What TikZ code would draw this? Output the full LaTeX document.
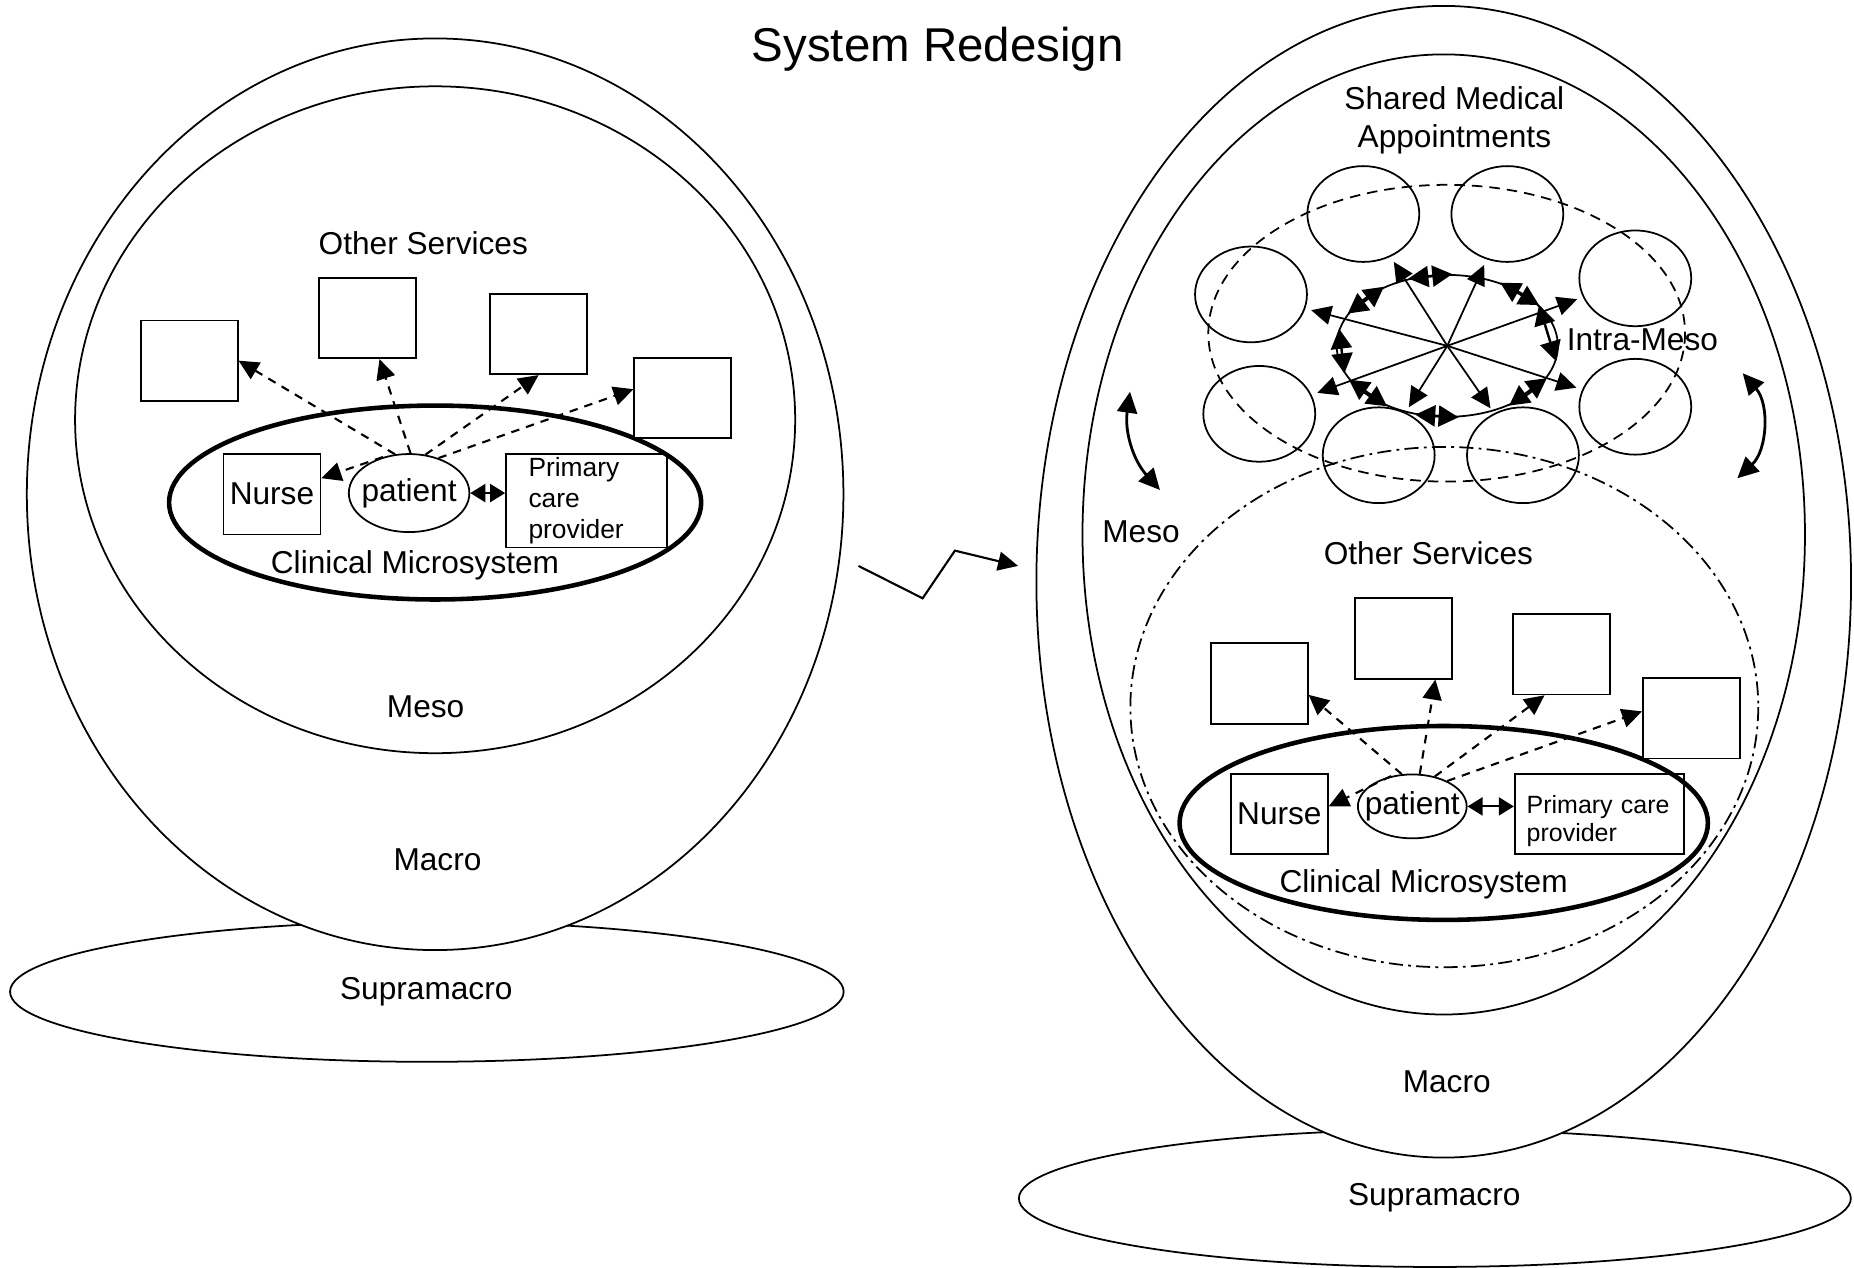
\documentclass[tikz,border=0pt]{standalone}
\usepackage{fontspec}
\setmainfont{Liberation Sans}
\usetikzlibrary{arrows.meta,shapes.geometric,positioning}

\begin{document}
\begin{tikzpicture}[x=0.11824mm,y=-0.11824mm,line width=0.5pt,font=\fontsize{9pt}{10.8pt}\selectfont,
svcbox/.style={draw,fill=white,minimum width=9.7mm,minimum height=8.04mm,inner sep=0pt},
nursebox/.style={draw,minimum width=9.7mm,minimum height=8.04mm,inner sep=0pt},
pcpbox/.style={draw,align=left,inner ysep=0pt},
patnode/.style={draw,ellipse,inner sep=0pt},
smanode/.style={draw,ellipse,minimum width=11.19mm,minimum height=9.58mm,inner sep=0pt},
hubnode/.style={draw,ellipse,minimum width=22.11mm,minimum height=14.19mm,inner sep=0pt},
micro/.style={line width=1.3pt},
tri/.style={-{Triangle[length=2mm,width=1.9mm]}},
dtri/.style={{Triangle[length=1.5mm,width=1.8mm]}-{Triangle[length=1.5mm,width=1.8mm]}},
dia/.style={line width=0.7pt,{Triangle[length=2mm,width=2.1mm]}-{Triangle[length=2mm,width=2.1mm]}},
mesoarr/.style={line width=0.8pt,{Triangle[length=2.1mm,width=2mm]}-{Triangle[length=2.1mm,width=2mm]}},
dsh/.style={dash pattern=on 2.4pt off 2pt,line width=0.6pt}]
\useasboundingbox (0,0) rectangle (1568,1072);

\node[font=\fontsize{13.5pt}{16pt}\selectfont] (title) at (793,42) {System Redesign};

% left: as is
\draw (361,838.7) ellipse [x radius=352.5,y radius=59.3];
\draw[fill=white] (368,418) ellipse [x radius=345.3,y radius=385.5];
\draw (368,355) ellipse [x radius=304.5,y radius=282];
\draw[micro] (368,425) ellipse [x radius=225,y radius=82];
\node[svcbox] (bA) at (160,305) {};
\node[svcbox] (bB) at (311,269) {};
\node[svcbox] (bC) at (455.5,282.5) {};
\node[svcbox] (bD) at (577.5,336.5) {};
\node[nursebox] (nL) at (230,418) {Nurse};
\node[patnode,minimum width=12.06mm,minimum height=7.8mm,label=center:patient] (pL) at (346,417) {};
\node[pcpbox,text width=11.59mm,inner xsep=2.25mm,minimum height=9.34mm,font=\fontsize{7.5pt}{8.9pt}\selectfont] (pcpL) at (496,423.5) {Primary\\care\\provider};
\path[dsh,tri]
(pL.110) edge (bA.east)
(pL.88) edge (bB.-74)
(pL.67) edge (bC.south)
(pL.50) edge (bD.170)
(pL.126) edge (nL.18);
\path[dtri,line width=0.6pt] (pL.east) edge (pL.east -| pcpL.west);
\node (otherL) at (358,206) {Other Services};
\node (microL) at (351,478) {Clinical Microsystem};
\node (mesoL) at (360,598) {Meso};
\node (macroL) at (370,727) {Macro};
\node (supraL) at (360.5,838.7) {Supramacro};

\coordinate (z0) at (726,478.6);
\coordinate (z1) at (780.3,506);
\coordinate (z2) at (807.6,465.7);
\coordinate (z3) at (861,478.6);
\draw[tri,line width=0.6pt] (z0) -- (z1) -- (z2) -- (z3);

% right: redesign
\draw (1213.5,1013.5) ellipse [x radius=351.8,y radius=58];
\draw[fill=white] (1221,492) ellipse [x radius=344.5,y radius=487];
\draw (1221,452) ellipse [x radius=305.5,y radius=406];
\draw[dash pattern=on 3pt off 2pt] (1223.5,281.8) ellipse [x radius=201.6,y radius=125.5];
\draw[dash pattern=on 4pt off 1.5pt on 0.8pt off 1.5pt] (1221.5,598) ellipse [x radius=265.5,y radius=220];
\draw[micro] (1221,696) ellipse [x radius=223.4,y radius=82];

\foreach \n/\x/\y in {a/1153/181,b/1274.8/181,c/1383/235.4,d/1058/249,e/1065/350,f/1166/385,g/1288/385,h/1383/344}
  \node[smanode] (sma\n) at (\x,\y) {};
\node[hubnode] (hub) at (1224,292.5) {};
\foreach \n in {a,...,h}
  \path[tri,shorten >=0.6mm] (hub.center) edge (sma\n);
\foreach \s/\e in {120/86,50/24,24/-8,-18/-44,-81/-115,-135/-161,-165/171,162/137}
  \path[dia] (hub.\s) edge (hub.\e);

\coordinate (mL1) at (955.7,331.3);
\coordinate (mL2) at (981,414.4);
\coordinate (mR1) at (1473.9,315.7);
\coordinate (mR2) at (1469.3,404.5);
\draw[mesoarr] (mL1) to[bend right=25] (mL2);
\draw[mesoarr] (mR1) to[bend left=44] (mR2);

\node[svcbox] (b1) at (1065,578) {};
\node[svcbox] (b2) at (1186.8,540) {};
\node[svcbox] (b3) at (1320.3,553.3) {};
\node[svcbox] (b4) at (1430.4,607.5) {};
\node[nursebox] (nR) at (1082,688.5) {Nurse};
\node[patnode,minimum width=10.88mm,minimum height=6.39mm,label=center:patient] (pR) at (1194.4,682) {};
\node[pcpbox,text width=14.5mm,inner xsep=1.2mm,minimum height=8.04mm,text height=9.1pt,font=\fontsize{7.1pt}{7.8pt}\selectfont] (pcpR) at (1352.5,688.5) {Primary care\\provider};
\path[dsh,tri]
(pR.108) edge (b1.-13)
(pR.77) edge (b2.-52)
(pR.53) edge (b3.-112)
(pR.36) edge (b4.172)
(pR.125) edge (nR.9);
\path[dtri,line width=0.6pt] (pR.east) edge (pR.east -| pcpR.west);

\node[align=center] (smaL) at (1230,102) {Shared Medical\\Appointments};
\node (intra) at (1389,287.5) {Intra-Meso};
\node (mesoR) at (965,450) {Meso};
\node (otherR) at (1208,468) {Other Services};
\node (microR) at (1204,747.6) {Clinical Microsystem};
\node (macroR) at (1223.5,915) {Macro};
\node (supraR) at (1213,1013) {Supramacro};
\end{tikzpicture}
\end{document}
